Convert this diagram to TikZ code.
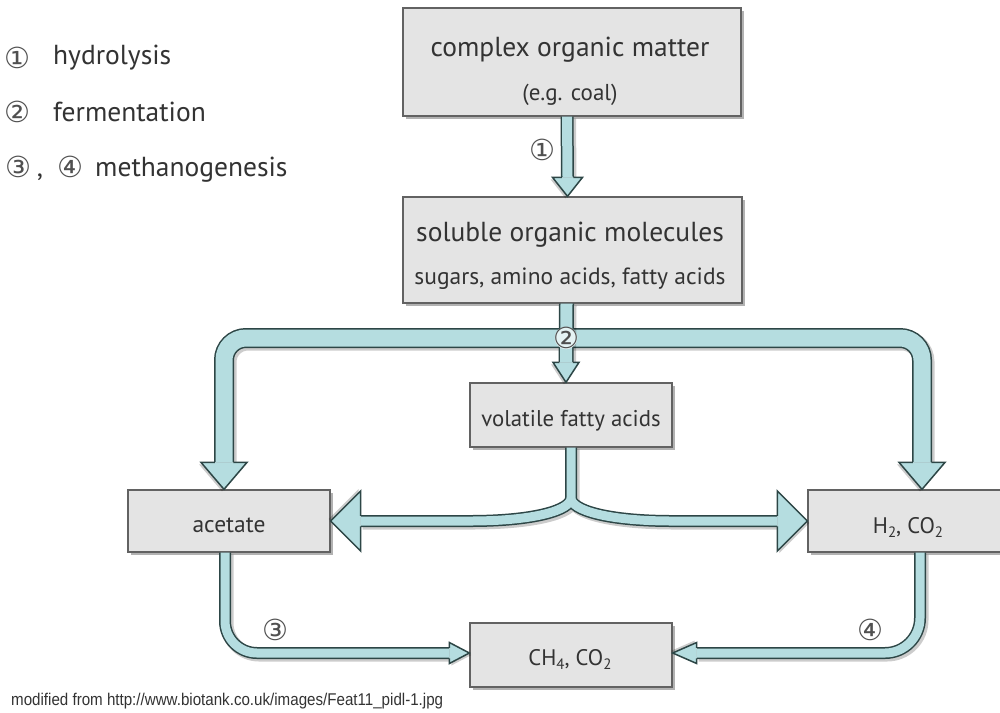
\documentclass[tikz,border=0pt]{standalone}
\usepackage{fontspec}
\setmainfont{PT Sans}
\newfontfamily\symf{DejaVu Sans}
\newfontfamily\narrowf{Liberation Sans}
\usetikzlibrary{shadows,calc}
\definecolor{boxfill}{HTML}{E4E4E4}
\definecolor{boxline}{HTML}{626262}
\definecolor{afill}{HTML}{B5DDE0}
\definecolor{aline}{HTML}{2D4646}
\definecolor{tcol}{HTML}{333333}
\definecolor{scol}{HTML}{505050}
\newcommand{\sbs}[1]{\raisebox{-4.5pt}{\fontsize{15}{15}\selectfont #1}}
\tikzset{
  pics/ahead/.style n args={3}{code={
    \fill[black,opacity=.2] (2,2) -- (-#2+2,#1/2+2) -- (-#2+2,-#1/2+2) -- cycle;
    \fill[afill] (0,0) -- (-#2,#1/2) -- (-#2,-#1/2) -- cycle;
    \draw[aline,line width=1.5,line join=miter] (-#2,#3/2) -- (-#2,#1/2) -- (0,0) -- (-#2,-#1/2) -- (-#2,-#3/2);
  }}
}
\begin{document}
\begin{tikzpicture}[x=1pt,y=-1pt,
  txt/.style={text=tcol,inner sep=0,anchor=base},
  sym/.style={text=scol,inner sep=0,font=\symf\fontsize{29}{29}\selectfont},
  box/.style={draw=boxline,fill=boxfill,line width=1.3,inner sep=0,
    drop shadow={shadow xshift=2.5pt,shadow yshift=-2.5pt,opacity=.3,fill=black}},
  fat/.style={draw=afill,line width=#1,line join=round,
    preaction={draw=black,opacity=.2,line width=#1+4,transform canvas={shift={(2pt,-2pt)}}},
    preaction={draw=aline,line width=#1+3}},
]
\useasboundingbox[fill=white] (0,0) rectangle (1000,712);

% boxes
\node[box,minimum width=338,minimum height=108] (b1) at (572,62) {};
\node[box,minimum width=339,minimum height=106] (b2) at (572.5,250) {};
\node[box,minimum width=202,minimum height=64] (vfa) at (571,415) {};
\node[box,minimum width=202,minimum height=62] (acet) at (229,521) {};
\node[box,minimum width=202,minimum height=62] (h2) at (909,521) {};
\node[box,minimum width=202,minimum height=64] (ch4) at (571,655) {};

% arrow 1
\draw[fat=10] ($(b1.south)+(-5,0)$) -- ($(b2.north)+(-5,-19)$);
\pic[rotate=-90] at ($(b2.north)+(-5,0)$) {ahead={30}{19}{11.5}};

% big bar
\coordinate (fork) at (566,338);
\draw[fat=17,rounded corners=22] ($(acet.north)+(-5,-27)$) |- (fork) -| ($(h2.north)+(13,-27)$);
\pic[rotate=-90] at ($(acet.north)+(-5,0)$) {ahead={46}{27}{18.5}};
\pic[rotate=-90] at ($(h2.north)+(13,0)$) {ahead={46}{27}{18.5}};

% fermentation
\draw[fat=12] ($(b2.south)+(-6,0)$) -- ($(vfa.north)+(-5,-20)$);
\pic[rotate=-90] at ($(vfa.north)+(-5,0)$) {ahead={26}{20}{13.5}};

% split
\coordinate (split) at (571,498);
\draw[fat=9] ($(acet.east)+(30,0)$) -- (470,521) .. controls (535,521) and (571,510) .. (split) -- (vfa.south)
  (split) .. controls (571,510) and (607,521) .. (672,521) -- ($(h2.west)+(-30,0)$);
\pic[rotate=180] at (acet.east) {ahead={60}{30}{10.5}};
\pic at (h2.west) {ahead={60}{30}{10.5}};

% arrow 3
\draw[fat=9,rounded corners=32] ($(acet.south)+(-4,0)$) |- ($(ch4.west)+(-20,-2)$);
\pic at ($(ch4.west)+(0,-2)$) {ahead={21}{20}{10.5}};
% arrow 4
\draw[fat=9,rounded corners=35] ($(h2.south)+(11,0)$) |- ($(ch4.east)+(24,-2)$);
\pic[rotate=180] at ($(ch4.east)+(0,-2)$) {ahead={21}{24}{10.5}};

% step labels
\node[sym] (n1) at (542,150) {①};
\node[sym,circle,fill=afill!35!white,inner sep=-4pt] (n2) at (fork) {②};
\node[sym] (n3) at (275,630) {③};
\node[sym] (n4) at (870,630) {④};

% texts
\node[txt,font=\fontsize{27.5}{30}\selectfont] (t1a) at (570,56) {complex organic matter};
\node[txt,font=\fontsize{23}{26}\selectfont] (t1b) at (570,100) {(e.g. coal)};
\node[txt,font=\fontsize{27.5}{30}\selectfont] (t2a) at (570,241) {soluble organic molecules};
\node[txt,font=\fontsize{23.5}{26}\selectfont] (t2b) at (570,284) {sugars, amino acids, fatty acids};
\node[txt,font=\fontsize{22.8}{25}\selectfont] (t3) at (571,426) {volatile fatty acids};
\node[txt,font=\fontsize{23.5}{25}\selectfont] (t4) at (229,532) {acetate};
\node[txt,font=\fontsize{22.5}{25}\selectfont] (t5) at (908,533) {H\sbs{2}, CO\sbs{2}};
\node[txt,font=\fontsize{22.5}{25}\selectfont] (t6) at (570,665) {CH\sbs{4}, CO\sbs{2}};

% legend
\node[sym] (k1) at (17,58) {①};
\node[txt,anchor=base west,font=\fontsize{27.5}{30}\selectfont] (l1) at (53,64) {hydrolysis};
\node[sym] (k2) at (17,112) {②};
\node[txt,anchor=base west,font=\fontsize{27.5}{30}\selectfont] (l2) at (53,121) {fermentation};
\node[sym] (k3) at (18,167) {③};
\node[txt,font=\fontsize{27.5}{30}\selectfont] (kc) at (40,176) {,};
\node[sym] (k4) at (70,167) {④};
\node[txt,anchor=base west,font=\fontsize{27.5}{30}\selectfont] (l3) at (95,176) {methanogenesis};

% source
\node[txt,anchor=base west,font=\narrowf\fontsize{17}{17}\selectfont,xscale=0.89,transform shape] (src) at (11,705) {modified from http://www.biotank.co.uk/images/Feat11\_pidl-1.jpg};
\end{tikzpicture}
\end{document}
